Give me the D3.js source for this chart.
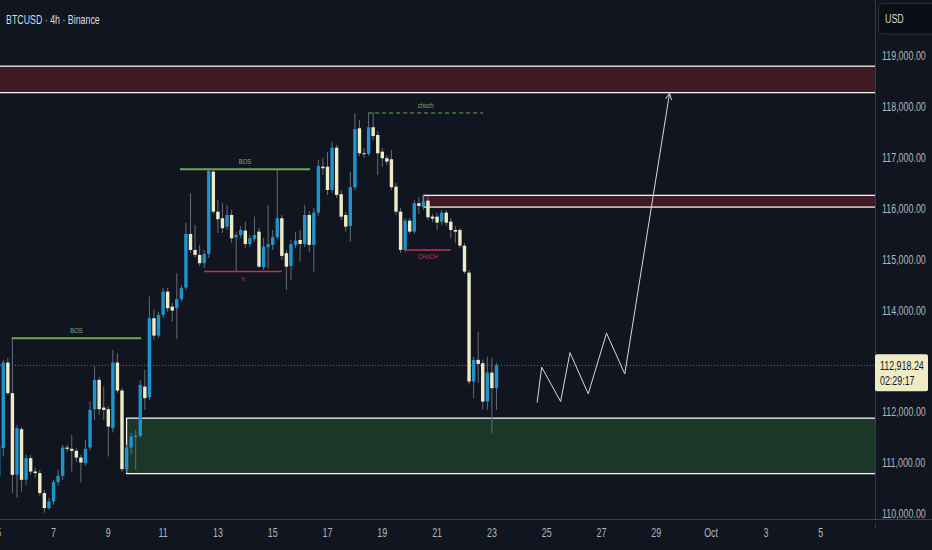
<!DOCTYPE html>
<html>
<head>
<meta charset="utf-8">
<style>
  html, body { margin: 0; padding: 0; background: #10151f; overflow: hidden; }
  svg { display: block; }
  text { font-family: "Liberation Sans", "DejaVu Sans", sans-serif; }
</style>
</head>
<body>
<div id="container"></div>
<script src="https://cdn.jsdelivr.net/npm/d3@7"></script>
<script>

// BTCUSD 4h candles, first one is Sep 5 00:00, one every 4 hours
const open = [110733,111291,112973,112372,110766,111664,110668,111094,110831,110800,
  110407,110112,110242,110623,110747,111303,111277,111238,111106,110996,
  111303,112057,112633,112089,112057,111684,112973,112423,110878,111303,
  111507,111533,112501,112293,113845,113503,113910,114368,114073,114042,
  114219,114447,115502,115187,115089,114926,115109,116726,115940,115810,
  115645,115875,115437,115482,115567,115305,115398,115547,114847,115241,
  115286,115437,115810,115123,114873,115286,115384,115305,115875,115286,
  115921,116824,116824,116366,117198,116282,115875,115659,116420,117579,
  117088,117074,117599,117447,117119,116990,116970,116432,115940,115188,
  115763,115547,116105,116038,116157,115842,115842,115744,115921,115744,
  115580,115580,115272,114741,112600,113026,112961,112207,112776,112470];
const high = [111454,113026,113065,113450,111743,111710,111160,111160,110904,110865,
  110472,110314,110668,110865,111356,111356,111552,111297,111160,111454,
  112207,112908,112692,112501,112122,113222,113158,112476,111356,111592,
  111650,112633,112830,114270,114028,113969,114441,114441,114146,114730,
  114500,115724,116302,115679,115286,115187,116770,116750,116170,116111,
  116072,115974,115541,115659,115744,115482,115842,115620,115423,116072,
  115580,116760,115875,115187,115384,115541,115580,116072,115954,116013,
  116956,116996,117119,117316,117251,116366,115934,116726,117874,117742,
  117192,117874,117905,117526,117192,117054,117153,116504,116013,115816,
  115816,116170,116229,116268,116249,115895,115915,115974,115974,115816,
  115659,115620,115325,114795,113085,113582,113026,113091,113065,112970];
const low = [110570,111126,112338,110413,110314,110438,110570,110766,110707,110354,
  110025,110078,110177,110550,110668,111218,110831,111022,110615,110943,
  111250,111847,111945,111847,111126,111600,112378,110825,110805,111160,
  110865,111493,112043,112240,113419,113458,113851,113969,113779,113433,
  114166,114402,115128,115030,114873,114834,115030,115895,115522,115522,
  115581,115325,114761,115423,115227,115246,115345,114834,114795,114828,
  115188,115400,114991,114401,114598,115227,114958,115246,115148,114761,
  115856,116661,116268,116308,116209,115777,115547,115350,116360,117035,
  116996,117035,117349,116661,116824,116858,116366,115875,115128,115148,
  115502,115502,115895,115974,115777,115738,115580,115679,115659,115423,
  115325,115227,114716,112541,112273,112574,112043,112043,111586,112043];
const close = [111323,112973,112372,110766,111684,110668,111094,110831,110800,110407,
  110112,110242,110623,110747,111303,111277,111238,111106,111008,111277,
  112043,112633,112057,112043,111715,112973,112423,110878,111303,111519,
  111533,112535,112273,113845,113503,113910,114368,114042,113995,114219,
  114435,115502,115187,115089,114926,115109,116740,115940,115791,115614,
  115875,115417,115482,115580,115305,115417,115482,114859,115253,115300,
  115437,115810,115070,114859,115300,115370,115305,115875,115286,115921,
  116838,116793,116366,117198,116268,115842,115645,116420,117559,117088,
  117074,117599,117428,117088,116990,116923,116420,115940,115188,115763,
  115547,116105,116052,116137,115830,115803,115724,115921,115724,115580,
  115547,115272,114761,112600,113026,112947,112207,112776,112470,112918.24];

const lastPrice = 112918.24;
const countdown = "02:29:17";

// supply / demand zones (start given as candle index, they run to the right edge)
const zoneKind = ["supply", "supply", "demand"];
const zoneLow  = [118280, 116030, 110790];
const zoneHigh = [118800, 116260, 111880];
const zoneFrom = [-4, 93, 28];

// structure marks
const structLabel = ["BOS", "BOS", "x", "choch", "CHoCH"];
const structPrice = [113450, 116774, 114762, 117880, 115185];
const structFrom  = [2.85, 39.7, 44.95, 80.9, 88.96];
const structTo    = [31.2, 68.2, 62, 106.1, 99];

// projected path (candle index, price)
const projIdx   = [117.9, 118.9, 123.05, 125.1, 129.1, 133.1, 137.1, 146.9];
const projPrice = [112187, 112883, 112207, 113169, 112358, 113551, 112751, 118267];

const yTicks = [110000, 111000, 112000, 113000, 114000, 115000, 116000, 117000, 118000, 119000];
const xTickDates  = ["2025-09-05","2025-09-07","2025-09-09","2025-09-11","2025-09-13","2025-09-15",
  "2025-09-17","2025-09-19","2025-09-21","2025-09-23","2025-09-25","2025-09-27","2025-09-29",
  "2025-10-01","2025-10-03","2025-10-05"];
const xTickLabels = ["5","7","9","11","13","15","17","19","21","23","25","27","29","Oct","3","5"];

const width = 932, height = 550;
const plotW = 875, plotH = 519;
const H4 = 4 * 3600 * 1000;
const t0 = new Date(2025, 8, 5);
const at = i => new Date(t0.getTime() + i * H4);
const parseDay = d3.timeParse("%Y-%m-%d");

const x = d3.scaleTime()
  .domain([new Date(2025, 8, 5), new Date(2025, 9, 7)])
  .range([-1.3, 875.5]);
const y = d3.scaleLinear().domain([110000, 119000]).range([513.8, 56]);

const UP = "#2193cc", DOWN = "#efebc6", WICK = "#666c78";
const GREEN = "#65ad55", RED = "#c3344c";

const svg = d3.create("svg").attr("width", width).attr("height", height);
svg.append("rect").attr("width", width).attr("height", height).attr("fill", "#10151f");

svg.append("clipPath").attr("id", "plot")
  .append("rect").attr("width", plotW).attr("height", plotH);

const g = svg.append("g").attr("clip-path", "url(#plot)");

// zones
const zones = zoneKind.map((k, i) => ({ k, lo: zoneLow[i], hi: zoneHigh[i], from: zoneFrom[i] }));
g.selectAll("rect.zone").data(zones).enter().append("rect")
  .attr("class", "zone")
  .attr("x", d => x(at(d.from)))
  .attr("y", d => y(d.hi))
  .attr("width", d => plotW + 10 - x(at(d.from)))
  .attr("height", d => y(d.lo) - y(d.hi))
  .attr("fill", d => d.k == "supply" ? "#3e1a23" : "#1c3628")
  .attr("stroke", "#f2f2f2")
  .attr("stroke-width", 1.3);

// last price dotted line
g.append("line")
  .attr("x1", 0).attr("x2", plotW)
  .attr("y1", y(lastPrice)).attr("y2", y(lastPrice))
  .attr("stroke", "#6b717d").attr("stroke-width", 1)
  .attr("stroke-dasharray", "1,2");

// candles
const candles = open.map((o, i) => ({ i, o, h: high[i], l: low[i], c: close[i] }));
const cg = g.selectAll("g.c").data(candles).enter().append("g").attr("class", "c");
cg.append("line")
  .attr("x1", d => x(at(d.i))).attr("x2", d => x(at(d.i)))
  .attr("y1", d => y(d.h)).attr("y2", d => y(d.l))
  .attr("stroke", WICK).attr("stroke-width", 1);
cg.append("rect")
  .attr("x", d => x(at(d.i)) - 1.7)
  .attr("width", 3.4)
  .attr("y", d => y(Math.max(d.o, d.c)))
  .attr("height", d => Math.max(1, Math.abs(y(d.o) - y(d.c))))
  .attr("fill", d => d.c >= d.o ? UP : DOWN);

// structure lines and labels
const marks = structLabel.map((t, i) => ({ t, p: structPrice[i], a: structFrom[i], b: structTo[i] }));
const isBull = d => d.t == "BOS" || d.t == "choch";
g.selectAll("line.st").data(marks).enter().append("line")
  .attr("class", "st")
  .attr("x1", d => x(at(d.a))).attr("x2", d => x(at(d.b)))
  .attr("y1", d => y(d.p)).attr("y2", d => y(d.p))
  .attr("stroke", d => isBull(d) ? GREEN : RED)
  .attr("stroke-width", d => d.t == "BOS" ? 2 : d.t == "choch" ? 1 : 1.5)
  .attr("stroke-dasharray", d => d.t == "choch" ? "4,3" : null);
g.selectAll("text.st").data(marks).enter().append("text")
  .attr("class", "st sq")
  .attr("x", d => (x(at(d.a)) + x(at(d.b))) / 2)
  .attr("y", d => y(d.p) + (isBull(d) ? -5 : 9))
  .attr("text-anchor", "middle")
  .attr("font-size", 8)
  .attr("fill", d => isBull(d) ? "#80b06e" : "#c23a50")
  .text(d => d.t);

// projection
const proj = projIdx.map((v, i) => [x(at(v)), y(projPrice[i])]);
g.append("path")
  .attr("d", d3.line()(proj))
  .attr("fill", "none").attr("stroke", "#d6d8de").attr("stroke-width", 1);
const [ax, ay] = proj[proj.length - 1], [bx, by] = proj[proj.length - 2];
const ang = Math.atan2(by - ay, bx - ax);
const head = [[ax + 7 * Math.cos(ang - 0.45), ay + 7 * Math.sin(ang - 0.45)], [ax, ay],
              [ax + 7 * Math.cos(ang + 0.45), ay + 7 * Math.sin(ang + 0.45)]];
g.append("path").attr("d", d3.line()(head))
  .attr("fill", "none").attr("stroke", "#d6d8de").attr("stroke-width", 1);

// axes frame
svg.append("line").attr("x1", plotW + 0.5).attr("x2", plotW + 0.5).attr("y1", 0).attr("y2", plotH)
  .attr("stroke", "#363a45");
svg.append("line").attr("x1", 0).attr("x2", width).attr("y1", plotH + 0.5).attr("y2", plotH + 0.5)
  .attr("stroke", "#3c404b");
svg.append("line").attr("x1", plotW + 0.5).attr("x2", plotW + 0.5).attr("y1", plotH + 4).attr("y2", plotH + 9)
  .attr("stroke", "#363a45");

// price axis
svg.selectAll("text.yt").data(yTicks).enter().append("text")
  .attr("class", "yt sq")
  .attr("x", 882).attr("y", d => y(d)).attr("dy", "0.35em")
  .attr("font-size", 12).attr("fill", "#b2b5be")
  .text(d3.format(",.2f"));

// time axis
svg.selectAll("text.xt").data(xTickDates).enter().append("text")
  .attr("class", "xt sq")
  .attr("x", d => x(parseDay(d))).attr("y", 533).attr("dy", "0.35em")
  .attr("text-anchor", "middle")
  .attr("font-size", 12).attr("fill", "#b2b5be")
  .text((d, i) => xTickLabels[i]);

// last price label
const ly = y(lastPrice);
svg.append("rect").attr("x", 875).attr("y", ly - 11).attr("width", 53).attr("height", 37)
  .attr("rx", 2).attr("fill", "#efebc6");
svg.append("text").attr("class", "sq").attr("x", 880).attr("y", ly).attr("dy", "0.35em")
  .attr("font-size", 12).attr("fill", "#131722").text(d3.format(",.2f")(lastPrice));
svg.append("text").attr("class", "sq").attr("x", 880).attr("y", ly + 15).attr("dy", "0.35em")
  .attr("font-size", 12).attr("fill", "#131722").text(countdown);

// currency button
svg.append("rect").attr("x", 878.5).attr("y", 3.5).attr("width", 62).attr("height", 30.5)
  .attr("rx", 4).attr("fill", "#0b0e14").attr("stroke", "#2a2e39");
svg.append("text").attr("class", "sq").attr("x", 885).attr("y", 19).attr("dy", "0.35em")
  .attr("font-size", 12).attr("fill", "#d1d4dc").text("USD");

// title
svg.append("text").attr("class", "sq title").attr("x", 6).attr("y", 19).attr("dy", "0.35em")
  .attr("font-size", 13).attr("font-weight", 500).attr("fill", "#d8dbe2").text("BTCUSD · 4h · Binance");

container.append(svg.node());

// the chart font is a narrow one: squeeze the text sideways round its anchor
svg.selectAll("text.sq").each(function() {
  const s = d3.select(this);
  const k = s.classed("title") ? 0.68 : 0.74;
  const x0 = +s.attr("x"), y0 = +s.attr("y");
  s.attr("x", 0).attr("y", 0).attr("transform", `translate(${x0},${y0}) scale(${k},1)`);
});
</script>
</body>
</html>
